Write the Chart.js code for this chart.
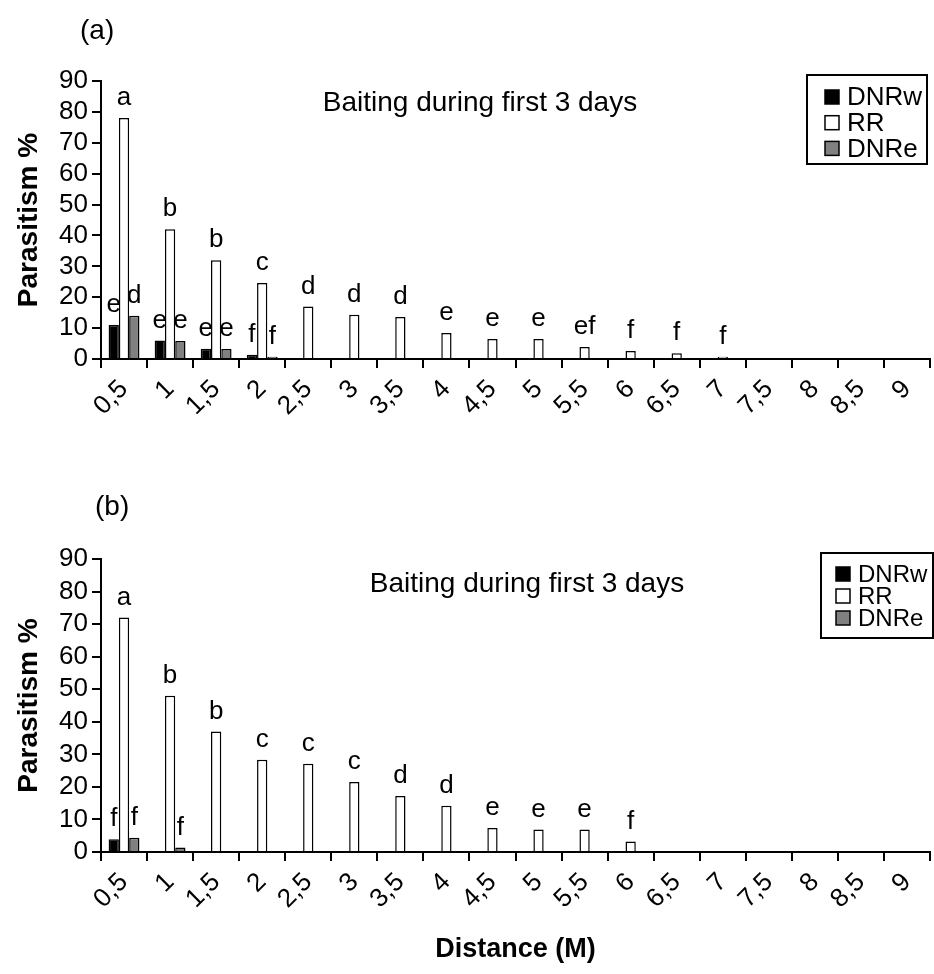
<!DOCTYPE html>
<html>
<head>
<meta charset="utf-8">
<script src="https://cdn.jsdelivr.net/npm/chart.js@4.4.1/dist/chart.umd.min.js"></script>
<style>
  body { margin: 0; background: #fff; }
  canvas { position: absolute; left: 0; }
</style>
</head>
<body>
<canvas id="chartA" width="934" height="470" style="top:0px"></canvas>
<canvas id="chartB" width="934" height="504" style="top:470px"></canvas>
<script>
// distance classes (M)
const distances = ['0,5','1','1,5','2','2,5','3','3,5','4','4,5','5','5,5','6','6,5','7','7,5','8','8,5','9'];
const seriesNames = ['DNRw', 'RR', 'DNRe'];

// panel (a)
const dnrwA = [11, 6, 3.3, 1.4, 0, 0, 0, 0, 0, 0, 0, 0, 0, 0, 0, 0, 0, 0];
const rrA   = [78, 42, 32, 24.6, 17, 14.3, 13.6, 8.4, 6.5, 6.5, 3.9, 2.6, 1.9, 0.7, 0, 0, 0, 0];
const dnreA = [14, 5.8, 3.2, 0.7, 0, 0, 0, 0, 0, 0, 0, 0, 0, 0, 0, 0, 0, 0];
const dnrwLettersA = ['e','e','e','f'];
const rrLettersA   = ['a','b','b','c','d','d','d','e','e','e','ef','f','f','f'];
const dnreLettersA = ['d','e','e','f'];

// panel (b)
const dnrwB = [3.9, 0, 0, 0, 0, 0, 0, 0, 0, 0, 0, 0, 0, 0, 0, 0, 0, 0];
const rrB   = [72, 48, 37, 28.3, 27.1, 21.5, 17.2, 14.2, 7.4, 6.9, 6.9, 3.2, 0, 0, 0, 0, 0, 0];
const dnreB = [4.4, 1.35, 0, 0, 0, 0, 0, 0, 0, 0, 0, 0, 0, 0, 0, 0, 0, 0];
const dnrwLettersB = ['f'];
const rrLettersB   = ['a','b','b','c','c','c','d','d','e','e','e','f'];
const dnreLettersB = ['f','f'];

const FONT = "'Liberation Sans', Arial, sans-serif";
Chart.defaults.font.family = FONT;
Chart.defaults.color = '#000';

const panelText = {
  id: 'panelText',
  afterDatasetsDraw(chart, args, o) {
    const ctx = chart.ctx;
    ctx.save();
    // significance letters above bars
    ctx.font = '26px ' + FONT;
    ctx.textAlign = 'center';
    ctx.textBaseline = 'bottom';
    ctx.fillStyle = '#000';
    o.letters.forEach((arr, i) => {
      const meta = chart.getDatasetMeta(i);
      arr.forEach((t, j) => {
        if (!t) return;
        const el = meta.data[j];
        ctx.fillText(t, el.x, el.y - 7);
      });
    });
    // panel label and title
    ctx.font = '28px ' + FONT;
    ctx.textAlign = 'left';
    ctx.textBaseline = 'middle';
    ctx.fillText(o.label, o.labelX, o.labelY);
    ctx.textAlign = 'center';
    ctx.fillText(o.title, o.titleX, o.titleY);
    // legend box
    const lg = o.legend;
    ctx.lineWidth = 2;
    ctx.strokeStyle = '#000';
    ctx.strokeRect(lg.x, lg.y, lg.w, lg.h);
    ctx.font = lg.size + 'px ' + FONT;
    ctx.textAlign = 'left';
    chart.data.datasets.forEach((ds, i) => {
      const cy = lg.y + lg.first + i * lg.row;
      ctx.fillStyle = ds.backgroundColor;
      ctx.fillRect(lg.sx, cy - 7, 14, 14);
      ctx.lineWidth = 1.5;
      ctx.strokeRect(lg.sx, cy - 7, 14, 14);
      ctx.fillStyle = '#000';
      ctx.fillText(ds.label, lg.tx, cy + 1);
    });
    ctx.restore();
  }
};

function makeChart(id, values, letters, text, top, xHeight, showXTitle) {
  const colors = ['#000000', '#ffffff', '#808080'];
  return new Chart(document.getElementById(id), {
    type: 'bar',
    data: {
      labels: distances,
      datasets: values.map((v, i) => ({
        label: seriesNames[i],
        data: v,
        backgroundColor: colors[i],
        borderColor: '#000',
        borderWidth: 1.5,
        categoryPercentage: 0.67,
        barPercentage: 1.0
      }))
    },
    options: {
      responsive: false,
      animation: false,
      layout: { padding: { top: top, right: 4, left: 0, bottom: 0 } },
      plugins: {
        legend: { display: false },
        tooltip: { enabled: false },
        panelText: Object.assign({ letters: letters }, text)
      },
      scales: {
        x: {
          grid: { drawOnChartArea: false, drawTicks: true, tickLength: 9, color: '#000', lineWidth: 2, offset: true },
          border: { display: true, color: '#000', width: 2 },
          ticks: { font: { size: 26 }, minRotation: 45, maxRotation: 45, padding: 6, autoSkip: false },
          title: {
            display: showXTitle,
            text: 'Distance (M)',
            font: { size: 27, weight: 'bold' },
            padding: { top: 0, bottom: 8 }
          },
          afterFit(s) { s.height = xHeight; s.paddingLeft = 0; s.paddingRight = 0; }
        },
        y: {
          min: 0,
          max: 90,
          grid: { drawOnChartArea: false, drawTicks: true, tickLength: 9, color: '#000', lineWidth: 2 },
          border: { display: true, color: '#000', width: 2 },
          ticks: { stepSize: 10, font: { size: 26 }, padding: 4, autoSkip: false },
          title: {
            display: true,
            text: 'Parasitism %',
            font: { size: 28, weight: 'bold' },
            padding: { top: 12, bottom: 0 }
          },
          afterFit(s) { s.width = 101; s.paddingTop = 0; s.paddingBottom = 0; }
        }
      }
    },
    plugins: [panelText]
  });
}

makeChart('chartA',
  [dnrwA, rrA, dnreA],
  [dnrwLettersA, rrLettersA, dnreLettersA],
  {
    label: '(a)', labelX: 80, labelY: 31,
    title: 'Baiting during first 3 days', titleX: 480, titleY: 103,
    legend: { x: 807, y: 75, w: 120, h: 89, first: 22, row: 25.7, sx: 825, tx: 847, size: 26 }
  },
  81, 470 - 359, false);

makeChart('chartB',
  [dnrwB, rrB, dnreB],
  [dnrwLettersB, rrLettersB, dnreLettersB],
  {
    label: '(b)', labelX: 95, labelY: 37,
    title: 'Baiting during first 3 days', titleX: 527, titleY: 114,
    legend: { x: 821, y: 83, w: 112, h: 85, first: 21, row: 22, sx: 836, tx: 858, size: 24 }
  },
  89, 504 - 382, true);
</script>
</body>
</html>
